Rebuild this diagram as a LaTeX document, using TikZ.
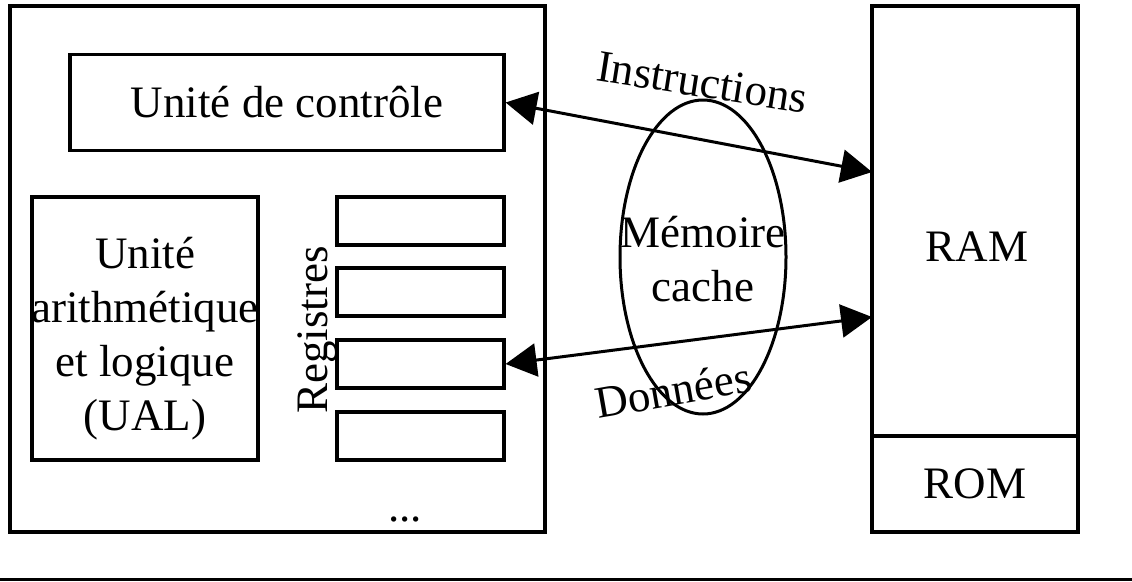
\documentclass[tikz,border=0pt]{standalone}
\usepackage{fontspec}
\setmainfont{Liberation Serif}
\usetikzlibrary{arrows.meta,shapes.geometric}
\begin{document}
\begin{tikzpicture}[x=1pt,y=-1pt,
  every node/.style={font=\fontsize{45}{54}\selectfont, inner sep=0pt},
  box/.style={draw, line width=3.2pt, rectangle},
  link/.style={line width=3pt, {Triangle[length=31pt,width=33pt]}-{Triangle[length=31pt,width=33pt]}}]
  \useasboundingbox (0,0) rectangle (1132,581);

  % processor frame
  \node[box, minimum width=535pt, minimum height=526pt] (cpu) at (277.5,269) {};
  \node[box, minimum width=434pt, minimum height=96pt] (ctrl) at (287,102.5) {Unité de contrôle};
  \node[box, minimum width=226pt, minimum height=263pt] (ual) at (145,328.5) {};
  \node[align=center] (ualtxt) at (145,339) {Unité\\arithmétique\\et logique\\(UAL)};

  % register file
  \foreach \i/\y in {1/221,2/292,3/364,4/436}
    \node[box, minimum width=167pt, minimum height=48pt] (r\i) at (420.5,\y) {};
  \node[rotate=90, anchor=base] (regtxt) at (327,330) {Registres};
  \node[anchor=base] (dots) at (405,521) {...};

  % main memory
  \node[box, minimum width=206pt, minimum height=430pt] (ram) at (975,221) {};
  \node[box, minimum width=206pt, minimum height=96pt] (rom) at (975,484) {ROM};
  \node (ramtxt) at (977,247) {RAM};

  % cache
  \node[draw, ellipse, line width=3pt, minimum width=166pt, minimum height=314pt] (cache) at (703,257) {};
  \node[align=center] (cachetxt) at (703,259) {Mémoire\\cache};

  % buses
  \coordinate (ramI) at (872,172);
  \coordinate (ramD) at (872,317);
  \draw[link] (ctrl.east) -- (ramI);
  \draw[link] (r3.east) -- (ramD);
  \node[anchor=base, rotate=-9] (instr) at (700,97) {Instructions};
  \node[anchor=base, rotate=10] (donn) at (676,405) {Données};

  % baseline rule
  \coordinate (ruleL) at (0,579);
  \coordinate (ruleR) at (1132,579);
  \draw[line width=3pt] (ruleL) -- (ruleR);
\end{tikzpicture}
\end{document}
